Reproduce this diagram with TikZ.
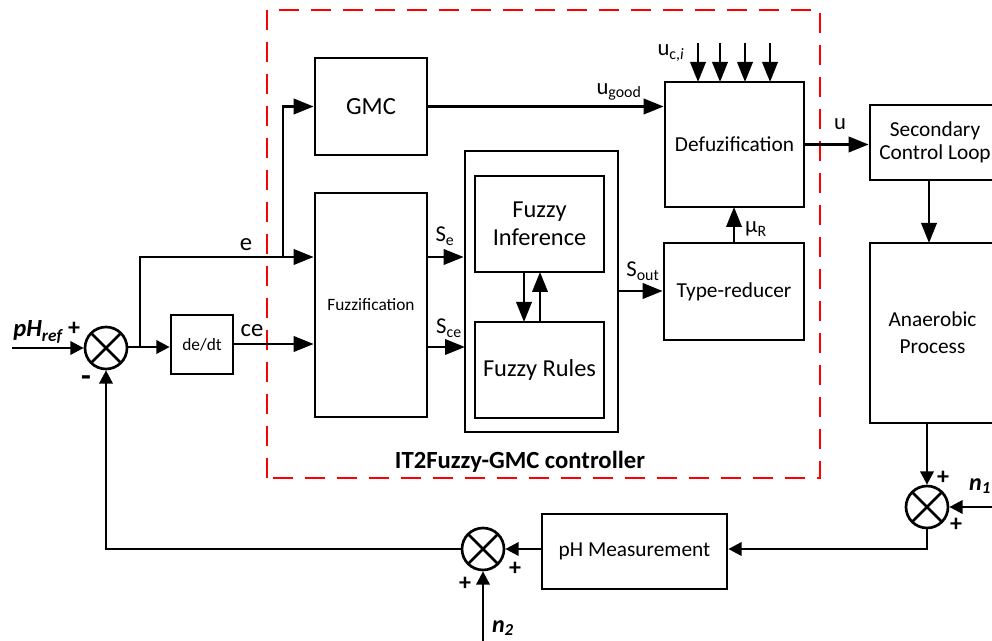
\documentclass[tikz,border=0pt]{standalone}
\usepackage{fontspec}
\setmainfont{Carlito}
\usetikzlibrary{arrows.meta,calc}
\newcommand{\fsz}[1]{\fontsize{#1}{\dimexpr #1pt*5/4\relax}\selectfont}
\newcommand{\low}[1]{\raisebox{-1.2pt}{#1}}
\tikzset{
  x=0.75pt,y=-0.75pt,
  conn/.style={line width=2pt,draw=black,-{Triangle[length=15pt,width=11.5pt]}},
  sconn/.style={line width=2pt,draw=black,-{Triangle[length=10pt,width=10pt]}},
  blk/.style={draw=black,line width=2pt,fill=white,align=center,inner sep=0pt,font=\fsz{16}},
  sumj/.style={circle,draw=black,line width=2pt,minimum size=31.5pt,inner sep=0pt,fill=white,
    path picture={\draw[line width=2pt]
      (path picture bounding box.north west)--(path picture bounding box.south east)
      (path picture bounding box.north east)--(path picture bounding box.south west);}},
  lab/.style={inner sep=0pt,font=\fsz{17}},
  sgn/.style={inner sep=0pt,font=\fsz{18}\bfseries},
}
\newcommand{\boxat}[7][]{\node[blk,#1,minimum width={(#5-#3)*0.75pt},minimum height={(#6-#4)*0.75pt}] (#2) at ({(#3+#5)/2},{(#4+#6)/2}) {#7};}
\begin{document}
\begin{tikzpicture}
\useasboundingbox (0,0) rectangle (992,641);
\draw[red,line width=2pt,dash pattern=on 15pt off 9pt] (267,478) -- (267,10) -- (820,10) -- (820,478) -- cycle;

\boxat[font=\fsz{18.5}]{gmc}{315}{58}{427}{155}{GMC}
\boxat[font=\fsz{13}]{fuzz}{315}{193}{427}{417}{\low{Fuzzification}}
\boxat{outer}{465}{151}{618}{432}{}
\boxat[font=\fsz{18.3}]{inf}{475}{176}{604}{272}{Fuzzy\\[-1.5pt]Inference}
\boxat[font=\fsz{18.3}]{rules}{475}{322}{604}{418}{\low{Fuzzy Rules}}
\boxat{defuz}{665}{82}{804}{207}{\low{Defuzification}}
\boxat{tr}{664}{243}{804}{340}{\low{Type-reducer}}
\boxat{sec}{870}{105}{1000}{180}{Secondary\\[-2.5pt]Control Loop}
\boxat{ana}{870}{243}{995}{423}{Anaerobic\\Process}
\boxat{ph}{542}{514}{727}{589}{\low{pH Measurement}}
\boxat[font=\fsz{13}]{dedt}{171}{315}{233}{374}{de/dt}

\node[sumj] (s1) at (106,348) {};
\node[sumj] (s2) at (927,507) {};
\node[sumj] (s3) at (483,549) {};

\coordinate (ref) at (12,348);
\coordinate (n1in) at (992,507);
\coordinate (n2in) at (483,641);
\coordinate (tap) at (140,347);
\coordinate (ebr) at (283,257);
\coordinate (cr) at (927,549);

\draw[sconn] (ref) -- (s1);
\draw[sconn] (s1.east |- tap) -- (tap -| dedt.west);
\draw[conn] (tap) |- (ebr -| fuzz.west);
\draw[conn] (ebr) |- (gmc.west);
\draw[conn] (233,344) -- (fuzz.west |- 0,344);
\draw[conn] (fuzz.east |- ebr) -- (outer.west |- ebr);
\draw[conn] (427,347) -- (465,347);
\draw[conn] (gmc.east) -- (defuz.west |- gmc.east);
\draw[conn] (524,272) -- (524,322);
\draw[conn] (540,322) -- (540,272);
\draw[conn] (618,291) -- (tr.west |- 0,291);
\draw[conn] (734,243) -- (734,207);
\draw[conn] (defuz.east) -- (sec.west |- defuz.east);
\foreach \xx in {698,720,745,770} \draw[conn] (\xx,43) -- (\xx,82);
\draw[conn] (929,180) -- (929,243);
\draw[sconn] (927,423) -- (s2.north);
\draw[sconn] (n1in) -- (s2.east);
\draw[sconn] (s2.south) |- (ph.east |- cr);
\draw[sconn] (ph.west |- s3.east) -- (s3.east);
\draw[sconn] (s3.west) -| (s1.south);
\draw[sconn] (n2in) -- (s3.south);

\node[lab,font=\fsz{18.5}\bfseries\itshape] at (38,332) {pH\textsubscript{ref}};
\node[sgn] at (74,329) {+};
\node[sgn,font=\fsz{24}\bfseries] at (86,381) {-};
\node[lab,font=\fsz{18.5}] at (246,245) {e};
\node[lab,font=\fsz{18.5}] at (252,331) {ce};
\node[lab] at (445,236) {S\textsubscript{e}};
\node[lab] at (449,328) {S\textsubscript{ce}};
\node[lab] at (643,271) {S\textsubscript{out}};
\node[lab] at (619,92) {u\textsubscript{good}};
\node[lab] at (671,53) {u\textsubscript{c,\textit{i}}};
\node[lab] at (840,124) {u};
\node[lab] at (756,229) {µ\textsubscript{R}};
\node[lab,font=\fsz{18.5}\bfseries] at (520,462) {IT2Fuzzy-GMC controller};
\node[sgn] at (943,478) {+};
\node[lab,font=\fsz{18}\bfseries\itshape] at (980,486) {n\textsubscript{1}};
\node[sgn] at (956,525) {+};
\node[sgn] at (515,569) {+};
\node[sgn] at (465,584) {+};
\node[lab,font=\fsz{18}\bfseries\itshape] at (503,628) {n\textsubscript{2}};
\end{tikzpicture}
\end{document}
